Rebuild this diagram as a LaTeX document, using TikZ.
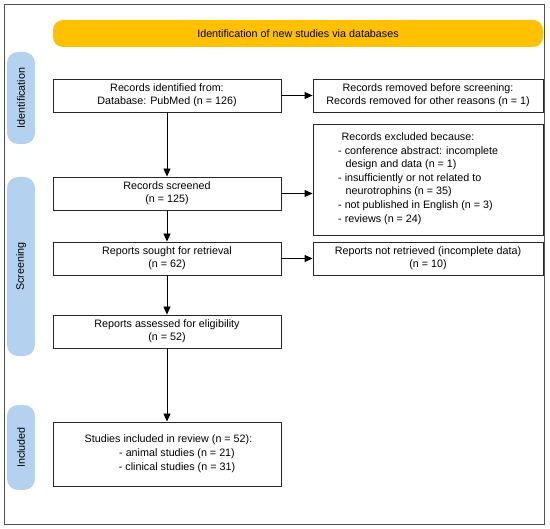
\documentclass[tikz,border=0pt]{standalone}
\usepackage{fontspec}
\setmainfont{Liberation Sans}
\usetikzlibrary{arrows.meta}
\definecolor{bannerorange}{RGB}{255,192,0}
\definecolor{sideblue}{RGB}{180,210,240}
\definecolor{framegray}{RGB}{80,80,80}
\begin{document}
\begin{tikzpicture}[x=1pt,y=-1pt,
  every node/.style={font=\fontsize{10.75}{12.7}\selectfont},
  flowbox/.style={draw=black!85, line width=0.9pt, fill=white, inner sep=0pt, align=center, minimum height=33pt},
  leftbox/.style={flowbox, minimum width=228pt},
  rightbox/.style={flowbox, minimum width=230pt},
  sidelabel/.style={fill=sideblue, rounded corners=11pt, inner sep=0pt, minimum height=28pt, rotate=90},
  flowarrow/.style={-{Triangle[length=8pt,width=7pt]}, line width=0.9pt, black}
]
\useasboundingbox (0,0) rectangle (550,529);
\draw[framegray, line width=0.9pt] (4,4) rectangle (544,524);

\node[fill=bannerorange, rounded corners=10pt, minimum width=490pt, minimum height=27pt, inner sep=0pt] (banner) at (298,33.5) {Identification of new studies via databases};

\node[sidelabel, minimum width=92pt] (lid) at (21,98) {Identification};
\node[sidelabel, minimum width=179pt] (lscr) at (21,266.5) {Screening};
\node[sidelabel, minimum width=85pt] (linc) at (21,447.5) {Included};

\node[leftbox] (ident) at (167,95.5) {Records identified from:\\Database: PubMed (n = 126)};
\node[rightbox] (removed) at (428,95.5) {Records removed before screening:\\Records removed for other reasons (n = 1)};
\node[rightbox, minimum height=111pt] (excluded) at (428,179.5) {};
\node[anchor=west, align=left, inner sep=0pt, font=\fontsize{10.75}{13.6}\selectfont] (exctext) at (338,178.5) {\hspace{3.5pt}Records excluded because:\\- conference abstract: incomplete\\\hspace{7.5pt}design and data (n = 1)\\- insufficiently or not related to\\\hspace{7.5pt}neurotrophins (n = 35)\\- not published in English (n = 3)\\- reviews (n = 24)};
\node[leftbox] (screened) at (167,193.5) {Records screened\\(n = 125)};
\node[leftbox] (sought) at (167,258.5) {Reports sought for retrieval\\(n = 62)};
\node[rightbox] (notret) at (428,258.5) {Reports not retrieved (incomplete data)\\(n = 10)};
\node[leftbox] (assessed) at (167,331.5) {Reports assessed for eligibility\\(n = 52)};
\node[leftbox, minimum height=64pt] (included) at (167,454) {};
\node[inner sep=0pt] (inc1) at (168.5,440) {Studies included in review (n = 52):};
\node[inner sep=0pt] (inc2) at (177,454) {- animal studies (n = 21)};
\node[inner sep=0pt] (inc3) at (177,467.5) {- clinical studies (n = 31)};

\draw[flowarrow] (ident) -- (screened);
\draw[flowarrow] (screened) -- (sought);
\draw[flowarrow] (sought) -- (assessed);
\draw[flowarrow] (assessed) -- (included);
\draw[flowarrow] (ident) -- (removed);
\draw[flowarrow] (screened.east) -- (screened.east -| excluded.west);
\draw[flowarrow] (sought) -- (notret);
\end{tikzpicture}
\end{document}
